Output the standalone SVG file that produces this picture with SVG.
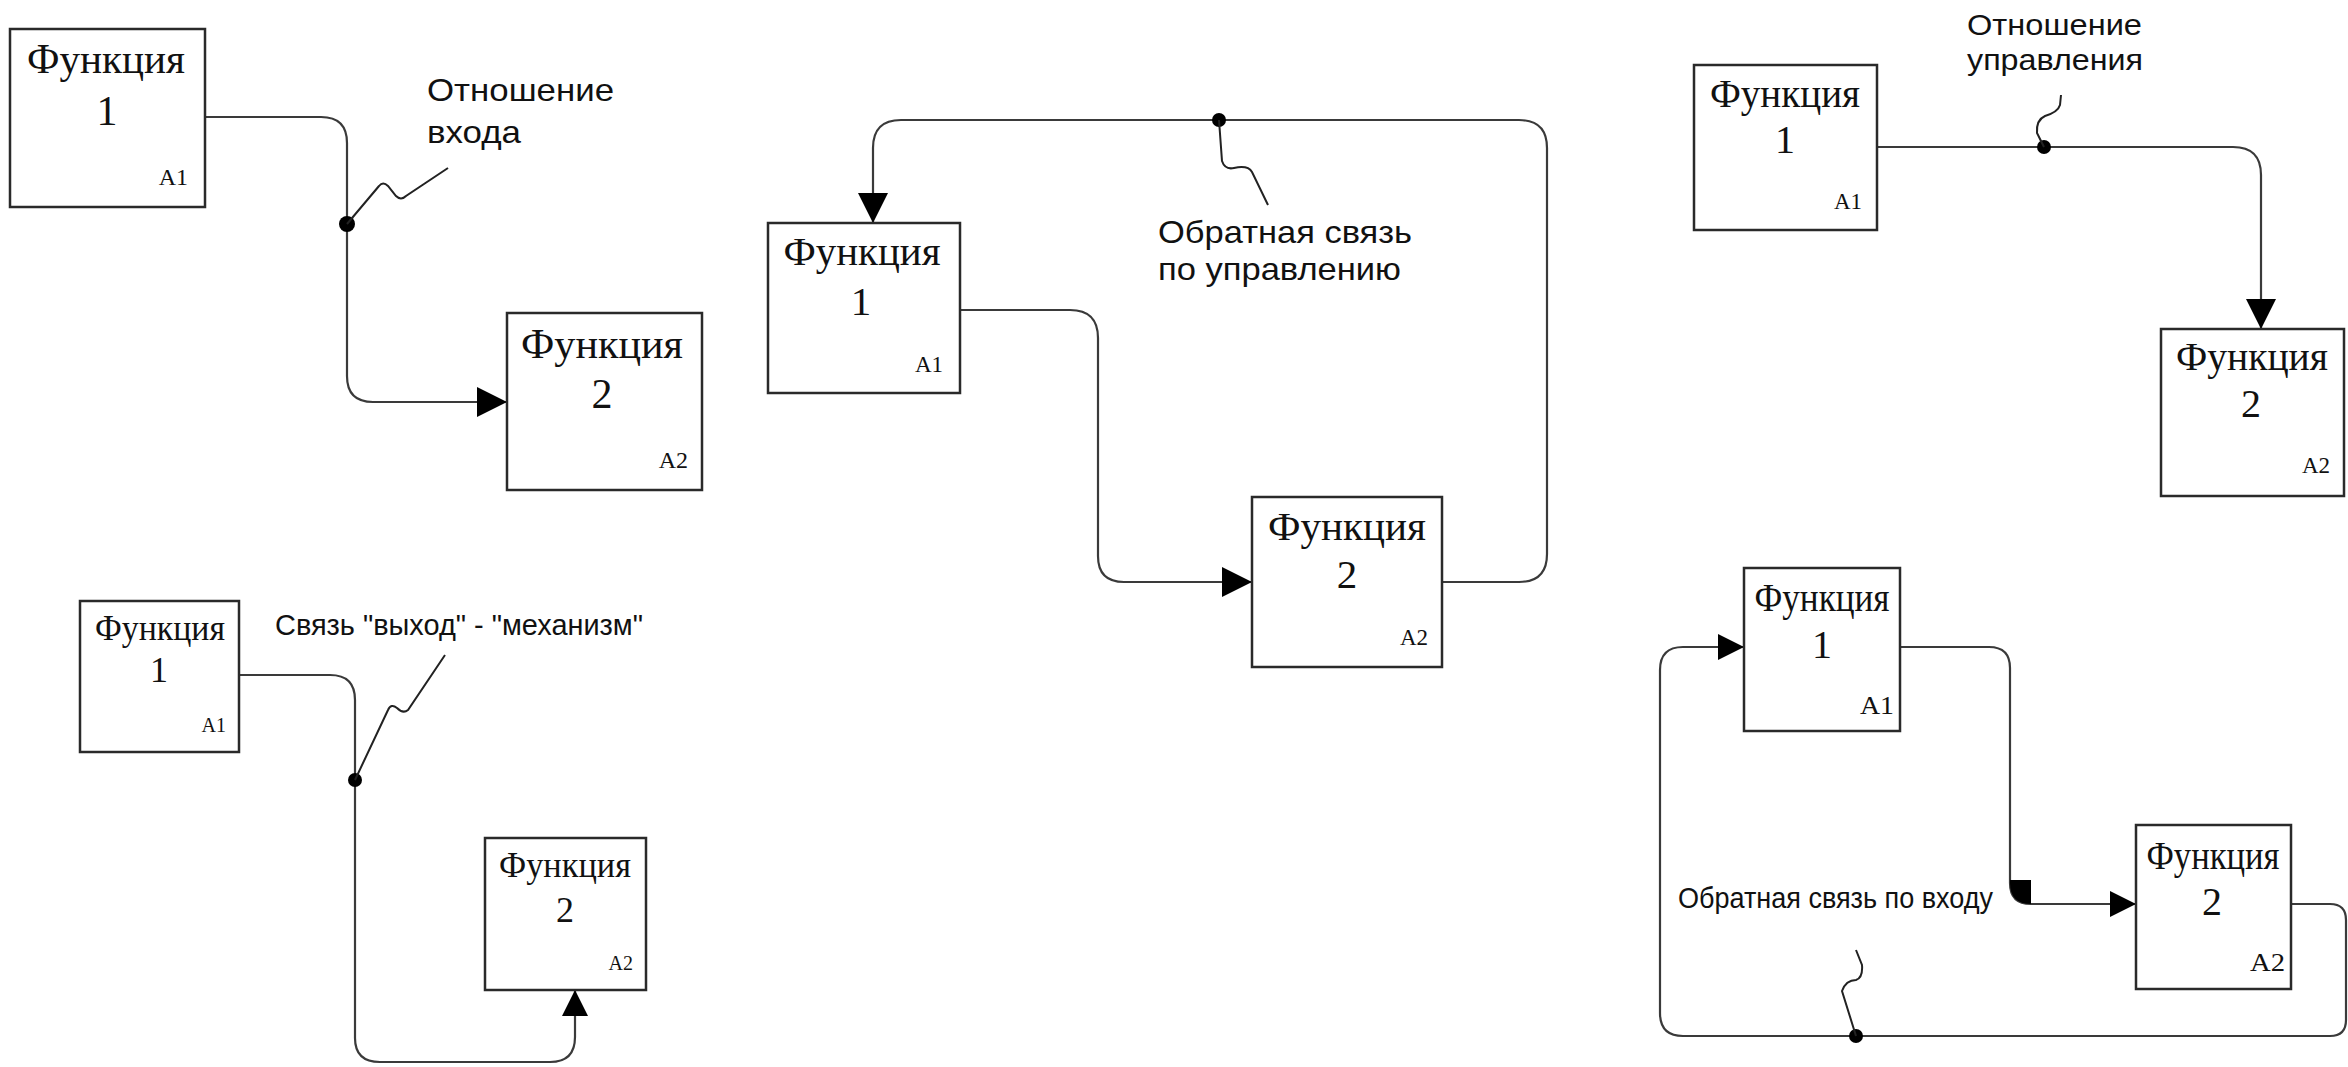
<svg xmlns="http://www.w3.org/2000/svg" width="2348" height="1067" viewBox="0 0 2348 1067">
<style>
.box{fill:#fff;stroke:#2a2a2a;stroke-width:2.5}
.fn{font-family:"Liberation Serif","Times New Roman",serif;fill:#111;text-anchor:middle}
.id{font-family:"Liberation Serif","Times New Roman",serif;fill:#111;text-anchor:end}
.lbl{font-family:"Liberation Sans",Arial,sans-serif;fill:#111}
.ln{fill:none;stroke:#3a3a3a;stroke-width:2.2}
.sq{fill:none;stroke:#222;stroke-width:2}
.dot{fill:#000}
</style>
<defs>
<marker id="arr" viewBox="0 0 30 30" refX="30" refY="15" markerWidth="30" markerHeight="30" markerUnits="userSpaceOnUse" orient="auto">
<path d="M0,0 L30,15 L0,30 Z" fill="#000"/>
</marker>
<marker id="arrS" viewBox="0 0 26 26" refX="26" refY="13" markerWidth="26" markerHeight="26" markerUnits="userSpaceOnUse" orient="auto">
<path d="M0,0 L26,13 L0,26 Z" fill="#000"/>
</marker>
</defs>
<rect width="2348" height="1067" fill="#fff"/>

<g id="connectors">
<!-- Diagram A -->
<path class="ln" d="M205,117 H321 Q347,117 347,143 V376 Q347,402 373,402 H507" marker-end="url(#arr)"/>
<circle class="dot" cx="347" cy="224" r="8"/>
<path class="sq" d="M347,224 L379,186 Q383,181 388,186 L396,196 Q401,201 406,196 L448,168"/>
<!-- Diagram B -->
<path class="ln" d="M239,675 H330 Q355,675 355,700 V1038 Q355,1062 380,1062 H550 Q575,1062 575,1037 V990" marker-end="url(#arrS)"/>
<circle class="dot" cx="355" cy="780" r="7"/>
<path class="sq" d="M355,780 L388,710 Q391,703 397,708 Q403,714 408,710 L445,655"/>
<!-- Diagram C -->
<path class="ln" d="M960,310 H1070 Q1098,310 1098,338 V556 Q1098,582 1124,582 H1252" marker-end="url(#arr)"/>
<path class="ln" d="M1442,582 H1519 Q1547,582 1547,554 V148 Q1547,120 1519,120 H901 Q873,120 873,148 V223" marker-end="url(#arr)"/>
<circle class="dot" cx="1219" cy="120" r="7"/>
<path class="sq" d="M1219,120 L1222,161 Q1225,170 1234,168 Q1248,165 1252,172 L1268,205"/>
<!-- Diagram D -->
<path class="ln" d="M1877,147 H2233 Q2261,147 2261,175 V329" marker-end="url(#arr)"/>
<circle class="dot" cx="2044" cy="147" r="7"/>
<path class="sq" d="M2044,147 L2037,133 Q2036,120 2045,116 Q2058,112 2060,105 L2061,95"/>
<!-- Diagram E -->
<path class="ln" d="M1900,647 H1989 Q2010,647 2010,668 V883 Q2010,904 2031,904 H2136" marker-end="url(#arrS)"/>
<path d="M2010,880 H2031 V904 Q2010,904 2010,883 Z" fill="#000"/>
<path class="ln" d="M2291,904 H2330 Q2346,904 2346,920 V1020 Q2346,1036 2330,1036 H1683 Q1660,1036 1660,1013 V670 Q1660,647 1683,647 H1744" marker-end="url(#arrS)"/>
<circle class="dot" cx="1856" cy="1036" r="7"/>
<path class="sq" d="M1856,1036 L1842,991 Q1846,980 1856,980 Q1863,978 1862,965 L1856,950"/>
</g>

<g id="labels">
<text class="lbl" font-size="32" x="427" y="101" textLength="187" lengthAdjust="spacingAndGlyphs">Отношение</text>
<text class="lbl" font-size="32" x="427" y="143" textLength="94" lengthAdjust="spacingAndGlyphs">входа</text>
<text class="lbl" font-size="30" x="275" y="635" textLength="368" lengthAdjust="spacingAndGlyphs">Связь "выход" - "механизм"</text>
<text class="lbl" font-size="32" x="1158" y="243" textLength="254" lengthAdjust="spacingAndGlyphs">Обратная связь</text>
<text class="lbl" font-size="32" x="1158" y="280" textLength="243" lengthAdjust="spacingAndGlyphs">по управлению</text>
<text class="lbl" font-size="30" x="1967" y="35" textLength="175" lengthAdjust="spacingAndGlyphs">Отношение</text>
<text class="lbl" font-size="30" x="1967" y="70" textLength="176" lengthAdjust="spacingAndGlyphs">управления</text>
<text class="lbl" font-size="30" x="1678" y="908" textLength="315" lengthAdjust="spacingAndGlyphs">Обратная связь по входу</text>
</g>

<g id="A-A1">
<rect class="box" x="10" y="29" width="195" height="178"/>
<text class="fn" font-size="42" x="106" y="73" textLength="158" lengthAdjust="spacingAndGlyphs">Функция</text>
<text class="fn" font-size="42" x="107" y="125">1</text>
<text class="id" font-size="24" x="188" y="185">A1</text>
</g>
<g id="A-A2">
<rect class="box" x="507" y="313" width="195" height="177"/>
<text class="fn" font-size="42" x="602" y="358" textLength="162" lengthAdjust="spacingAndGlyphs">Функция</text>
<text class="fn" font-size="42" x="602" y="408">2</text>
<text class="id" font-size="24" x="688" y="468">A2</text>
</g>

<g id="B-A1">
<rect class="box" x="80" y="601" width="159" height="151"/>
<text class="fn" font-size="36" x="160" y="640" textLength="130" lengthAdjust="spacingAndGlyphs">Функция</text>
<text class="fn" font-size="36" x="159" y="682">1</text>
<text class="id" font-size="20" x="226" y="732">A1</text>
</g>
<g id="B-A2">
<rect class="box" x="485" y="838" width="161" height="152"/>
<text class="fn" font-size="36" x="565" y="877" textLength="132" lengthAdjust="spacingAndGlyphs">Функция</text>
<text class="fn" font-size="36" x="565" y="922">2</text>
<text class="id" font-size="20" x="633" y="970">A2</text>
</g>

<g id="C-A1">
<rect class="box" x="768" y="223" width="192" height="170"/>
<text class="fn" font-size="41" x="862" y="265" textLength="157" lengthAdjust="spacingAndGlyphs">Функция</text>
<text class="fn" font-size="41" x="861" y="315">1</text>
<text class="id" font-size="23" x="943" y="372">A1</text>
</g>
<g id="C-A2">
<rect class="box" x="1252" y="497" width="190" height="170"/>
<text class="fn" font-size="41" x="1347" y="540" textLength="158" lengthAdjust="spacingAndGlyphs">Функция</text>
<text class="fn" font-size="41" x="1347" y="588">2</text>
<text class="id" font-size="23" x="1428" y="645">A2</text>
</g>

<g id="D-A1">
<rect class="box" x="1694" y="65" width="183" height="165"/>
<text class="fn" font-size="40" x="1785" y="107" textLength="150" lengthAdjust="spacingAndGlyphs">Функция</text>
<text class="fn" font-size="40" x="1785" y="153">1</text>
<text class="id" font-size="23" x="1862" y="209">A1</text>
</g>
<g id="D-A2">
<rect class="box" x="2161" y="329" width="183" height="167"/>
<text class="fn" font-size="40" x="2252" y="370" textLength="152" lengthAdjust="spacingAndGlyphs">Функция</text>
<text class="fn" font-size="40" x="2251" y="417">2</text>
<text class="id" font-size="23" x="2330" y="473">A2</text>
</g>

<g id="E-A1">
<rect class="box" x="1744" y="568" width="156" height="163"/>
<text class="fn" font-size="40" x="1822" y="611" textLength="135" lengthAdjust="spacingAndGlyphs">Функция</text>
<text class="fn" font-size="40" x="1822" y="658">1</text>
<text class="id" font-size="26" x="1894" y="714" textLength="34" lengthAdjust="spacingAndGlyphs">A1</text>
</g>
<g id="E-A2">
<rect class="box" x="2136" y="825" width="155" height="164"/>
<text class="fn" font-size="40" x="2213" y="869" textLength="133" lengthAdjust="spacingAndGlyphs">Функция</text>
<text class="fn" font-size="40" x="2212" y="915">2</text>
<text class="id" font-size="26" x="2285" y="971" textLength="35" lengthAdjust="spacingAndGlyphs">A2</text>
</g>
</svg>
